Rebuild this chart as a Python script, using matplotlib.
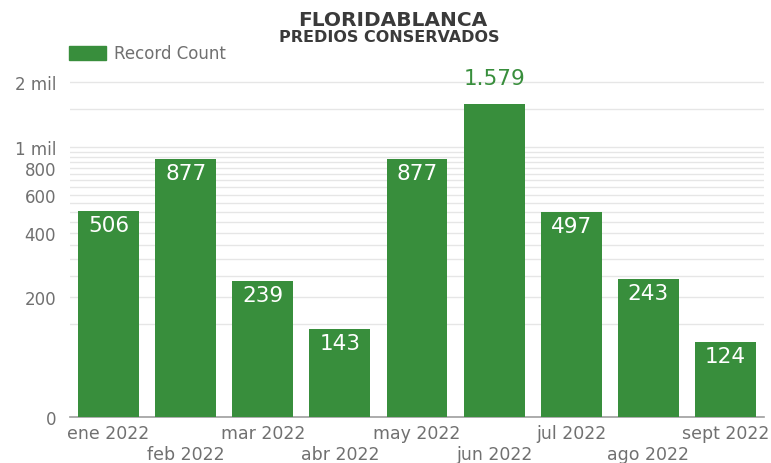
import matplotlib.pyplot as plt
from matplotlib.patches import Rectangle
from matplotlib.ticker import FixedLocator, NullFormatter

months = ["ene 2022", "feb 2022", "mar 2022", "abr 2022", "may 2022",
          "jun 2022", "jul 2022", "ago 2022", "sept 2022"]
counts = [506, 877, 239, 143, 877, 1579, 497, 243, 124]
value_labels = ["506", "877", "239", "143", "877", "1.579", "497", "243", "124"]

axis_floor = 55.3
major_ticks = [axis_floor, 200, 400, 600, 800, 1000, 2000]
major_labels = ["0", "200", "400", "600", "800", "1 mil", "2 mil"]
minor_grid = [150, 250, 300, 350, 450, 500, 550, 650, 700, 750, 850, 900, 950, 1500]

green = "#388e3c"
plt.rcParams['font.family'] = ['DejaVu Sans']

fig = plt.figure(figsize=(7.71, 4.64), dpi=100)
ax = fig.add_axes([70 / 771, (464 - 418.3) / 464, 694 / 771, 355.8 / 464])

x = list(range(len(months)))
ax.bar(x, counts, width=0.79, color=green, zorder=3)
ax.set_yscale("log")
ax.set_ylim(axis_floor, 2500)
ax.set_xlim(-0.5, 8.5)

ax.yaxis.set_major_locator(FixedLocator(major_ticks))
ax.set_yticklabels(major_labels)
ax.yaxis.set_minor_locator(FixedLocator(minor_grid))
ax.yaxis.set_minor_formatter(NullFormatter())
ax.grid(axis="y", which="both", color="#e6e6e6", linewidth=1, zorder=0)
ax.tick_params(axis="y", which="both", length=0, labelsize=12, labelcolor="#707070", pad=10)

ax.set_xticks(x)
ax.set_xticklabels([m if i % 2 == 0 else "\n" + m for i, m in enumerate(months)])
ax.tick_params(axis="x", length=0, labelsize=12.5, labelcolor="#707070", pad=5)

for s in ["top", "right", "left"]:
    ax.spines[s].set_visible(False)
ax.spines["bottom"].set_color("#9e9e9e")
ax.spines["bottom"].set_linewidth(1.2)

for i, (v, lab) in enumerate(zip(counts, value_labels)):
    if v > 1500:
        ax.annotate(lab, (i, v), xytext=(0, 12), textcoords="offset points",
                    ha="center", va="bottom", color=green, fontsize=15.5)
    else:
        ax.annotate(lab, (i, v), xytext=(0, -3), textcoords="offset points",
                    ha="center", va="top", color="white", fontsize=15.5)

fig.text(393 / 771, 1 - 20 / 464, "FLORIDABLANCA", ha="center", va="center",
         fontsize=14.5, fontweight="bold", color="#3a3a3a")
fig.text(389 / 771, 1 - 38 / 464, "PREDIOS CONSERVADOS", ha="center", va="center",
         fontsize=11.5, fontweight="bold", color="#3a3a3a")

fig.patches.append(Rectangle((69 / 771, 1 - 61 / 464), 37 / 771, 14 / 464,
                             transform=fig.transFigure, color=green, figure=fig))
fig.text(114 / 771, 1 - 54 / 464, "Record Count", ha="left", va="center",
         fontsize=12, color="#707070")

fig.savefig("out.png", dpi=100)
